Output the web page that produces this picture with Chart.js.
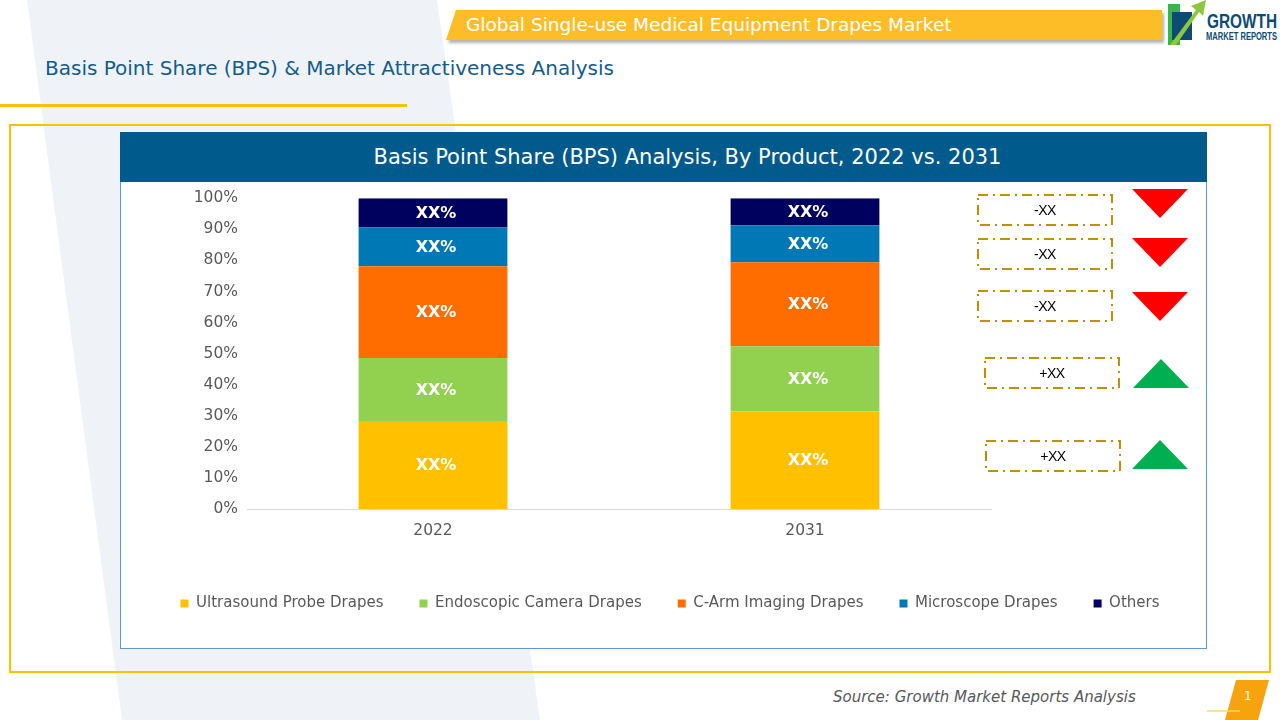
<!DOCTYPE html>
<html>
<head>
<meta charset="utf-8">
<script src="https://cdn.jsdelivr.net/npm/chart.js@4"></script>
<style>
  body { margin: 0; width: 1280px; height: 720px; position: relative; overflow: hidden; background: #fff; font-family: 'DejaVu Sans', sans-serif; }
  .abs { position: absolute; }
  #frame { left: 9px; top: 124px; width: 1258px; height: 545px; border: 2px solid #ffc000; }
  #box { left: 120px; top: 132px; width: 1085px; height: 515px; border: 1px solid #5b9bd5; background: #fff; }
  #boxHead { left: 120px; top: 132px; width: 1039px; padding-left: 48px; height: 50px; background: #005a8b; color: #fff; font-size: 21px; line-height: 50px; text-align: center; }
  #sub { left: 45px; top: 56px; font-size: 20px; color: #135c8d; white-space: nowrap; }
  #subLine { left: 0; top: 104px; width: 407px; height: 3px; background: #ffc000; }
  #bannerText { left: 466px; top: 14px; font-size: 18.5px; color: #fff; white-space: nowrap; }
  #chartWrap { left: 120px; top: 180px; width: 1086px; height: 468px; }
  .chg { position: absolute; width: 136px; height: 32px; font-family: 'Liberation Sans', sans-serif; font-size: 14px; color: #000; text-align: center; line-height: 32px; letter-spacing: -0.5px; }
  .chg svg { position: absolute; left: 0; top: 0; }
  .chg span { position: relative; }
  #source { left: 833px; top: 688px; font-size: 15px; font-style: italic; color: #595959; white-space: nowrap; }
  #pgNum { left: 1244px; top: 689px; font-size: 12px; color: #fff; }
</style>
</head>
<body>
<svg class="abs" style="left:0;top:0" width="1280" height="720">
  <polygon points="27,0 437,0 540,720 122,720" fill="#eff3f7"/>
  <defs>
    <filter id="sh" x="-5%" y="-20%" width="110%" height="160%">
      <feDropShadow dx="2" dy="3" stdDeviation="1.5" flood-color="#000" flood-opacity="0.3"/>
    </filter>
  </defs>
  <polygon points="456,10 1162,10 1162,40 446,40" fill="#fdbd27" filter="url(#sh)"/>
  <!-- logo -->
  <rect x="1168" y="4" width="12" height="41" fill="#3cb44b"/>
  <rect x="1172" y="12" width="20" height="28" fill="#0d4b73"/>
  <polygon points="1170,45 1196,10 1191,6 1206,0 1203,16 1199,12 1176,45" fill="#8dc63f"/>
  <text x="1207" y="28" textLength="70" lengthAdjust="spacingAndGlyphs" font-family="'Liberation Sans'" font-weight="bold" font-size="20" fill="#0d4b73">GROWTH</text>
  <text x="1206" y="40" textLength="71" lengthAdjust="spacingAndGlyphs" font-family="'Liberation Sans'" font-weight="bold" font-size="10" fill="#0d4b73">MARKET REPORTS</text>
  <!-- page number -->
  <polygon points="1236,680 1269,680 1258,720 1225,720" fill="#f7a30d"/>
  <line x1="1207" y1="711" x2="1240" y2="711" stroke="#ffd966" stroke-width="1.5"/>
</svg>
<div id="bannerText" class="abs">Global Single-use Medical Equipment Drapes Market</div>
<div id="sub" class="abs">Basis Point Share (BPS) &amp; Market Attractiveness Analysis</div>
<div id="subLine" class="abs"></div>
<div id="frame" class="abs"></div>
<div id="box" class="abs"></div>
<div id="boxHead" class="abs">Basis Point Share (BPS) Analysis, By Product, 2022 vs. 2031</div>
<div id="chartWrap" class="abs"><canvas id="bpsChart" width="1086" height="468"></canvas></div>
<div id="changes"></div>
<div id="source" class="abs">Source: Growth Market Reports Analysis</div>
<div id="pgNum" class="abs">1</div>

<script>
// 資料
const years = ['2022', '2031'];
const products = ['Ultrasound Probe Drapes', 'Endoscopic Camera Drapes', 'C-Arm Imaging Drapes', 'Microscope Drapes', 'Others'];
const share2022 = [28.3, 20.3, 29.5, 12.5, 9.4];
const share2031 = [31.5, 20.9, 27.0, 11.9, 8.7];
const segLabel = 'XX%';
const yTicks = [0, 10, 20, 30, 40, 50, 60, 70, 80, 90, 100];
// 右側 BPS 變化 (由上而下: Others → Ultrasound)
const bpsChange = ['-XX', '-XX', '-XX', '+XX', '+XX'];

const colors = ['#ffc000', '#92d050', '#ff6d00', '#0078b6', '#00005e'];
const fontFamily = "'DejaVu Sans', sans-serif";

// 右側變化方塊與三角形
const chgPos = [[977, 194, 1132, 189], [977, 238, 1132, 238], [977, 290, 1132, 292], [984, 357, 1133, 359], [985, 440, 1132, 440]];
const chgWrap = document.getElementById('changes');
bpsChange.forEach((txt, i) => {
  const [bx, by, tx, ty] = chgPos[i];
  const d = document.createElement('div');
  d.className = 'chg';
  d.style.left = bx + 'px';
  d.style.top = by + 'px';
  d.innerHTML = '<svg width="136" height="32"><rect x="1" y="1" width="134" height="30" fill="none" stroke="#bf9000" stroke-width="2" stroke-dasharray="10 5 2 5"/></svg><span>' + txt + '</span>';
  chgWrap.appendChild(d);
  const up = txt.charAt(0) === '+';
  const t = document.createElementNS('http://www.w3.org/2000/svg', 'svg');
  t.setAttribute('width', '57');
  t.setAttribute('height', '30');
  t.style.position = 'absolute';
  t.style.left = tx + 'px';
  t.style.top = ty + 'px';
  t.innerHTML = up
    ? '<polygon points="28,0 56,29 0,29" fill="#00b050"/>'
    : '<polygon points="0,0 56,0 28,29" fill="#ff0000"/>';
  chgWrap.appendChild(t);
});

// 每段中央的白色標籤
const barLabels = {
  id: 'barLabels',
  afterDatasetsDraw(chart) {
    const ctx = chart.ctx;
    ctx.save();
    ctx.font = 'bold 16px ' + fontFamily;
    ctx.fillStyle = '#ffffff';
    ctx.textAlign = 'center';
    ctx.textBaseline = 'middle';
    chart.data.datasets.forEach((ds, i) => {
      chart.getDatasetMeta(i).data.forEach(bar => {
        const p = bar.getProps(['x', 'y', 'base'], true);
        ctx.fillText(segLabel, p.x + 3, (p.y + p.base) / 2 + 1);
      });
    });
    ctx.restore();
  }
};

const datasets = products.map((name, i) => ({
  label: name,
  data: [share2022[i], share2031[i]],
  backgroundColor: colors[i],
  borderWidth: 0,
  barPercentage: 0.4,
  categoryPercentage: 1.0
}));

const ctx = document.getElementById('bpsChart').getContext('2d');
new Chart(ctx, {
  type: 'bar',
  data: { labels: years, datasets: datasets },
  options: {
    responsive: false,
    animation: false,
    layout: { padding: { left: 14, right: 0, top: 14, bottom: 27 } },
    plugins: {
      legend: {
        position: 'bottom',
        labels: { boxWidth: 8, boxHeight: 8, padding: 36, color: '#595959', font: { family: fontFamily, size: 15 } }
      },
      tooltip: { enabled: false }
    },
    scales: {
      x: {
        stacked: true,
        grid: { display: false, drawTicks: false },
        border: { color: '#d9d9d9' },
        ticks: { padding: 13, color: '#595959', font: { family: fontFamily, size: 15.5 } },
        afterFit: s => { s.height = 51; }
      },
      y: {
        stacked: true,
        min: 0,
        max: 100,
        afterBuildTicks: s => { s.ticks = yTicks.map(v => ({ value: v })); },
        ticks: { padding: 9, color: '#595959', font: { family: fontFamily, size: 15.5 }, callback: v => v + '%' },
        grid: { display: false, drawTicks: false },
        border: { display: false },
        afterFit: s => { s.width = 113; }
      },
      // 右側留白給 BPS 方塊
      yR: {
        position: 'right',
        ticks: { display: false },
        grid: { display: false, drawTicks: false },
        border: { display: false },
        afterFit: s => { s.width = 215; }
      }
    }
  },
  plugins: [barLabels]
});
</script>
</body>
</html>
